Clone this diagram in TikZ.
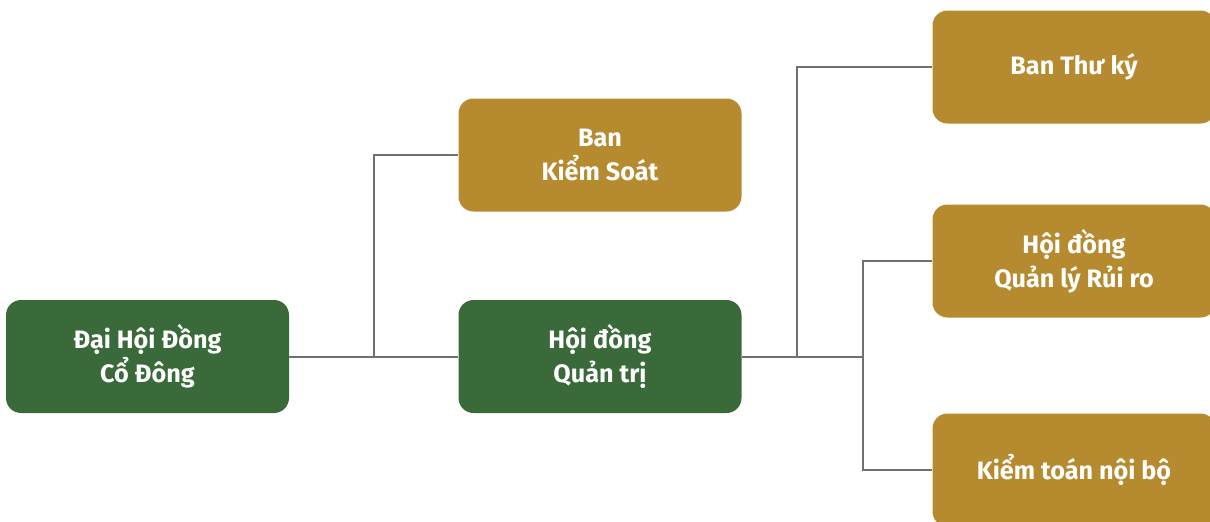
\documentclass[tikz,border=0pt]{standalone}
\usepackage{fontspec}
\setmainfont{Fira Sans}
\definecolor{boxgreen}{HTML}{3A6A3A}
\definecolor{boxgold}{HTML}{B68B2F}
\definecolor{linegray}{HTML}{707070}
\begin{document}
\begin{tikzpicture}[x=1pt,y=-1pt,
  orgbox/.style={rounded corners=15pt, minimum width=283pt, minimum height=113pt,
    align=center, text=white, font=\fontsize{25.2}{34}\selectfont\bfseries, inner sep=0pt},
  greenbox/.style={orgbox, fill=boxgreen},
  goldbox/.style={orgbox, fill=boxgold},
  conn/.style={draw=linegray, line width=2pt}]
\useasboundingbox (0,0) rectangle (1210,522);
\clip (0,0) rectangle (1210,522);
\node[greenbox] (dhdc) at (147.5,356.5) {Đại Hội Đồng\\Cổ Đông};
\node[goldbox] (bks) at (600,155) {Ban\\Kiểm Soát};
\node[greenbox] (hdqt) at (600,356.5) {Hội đồng\\Quản trị};
\node[goldbox] (btk) at (1074,67) {Ban Thư ký};
\node[goldbox] (hdql) at (1074,261) {Hội đồng\\Quản lý Rủi ro};
\node[goldbox] (ktnb) at (1074,470) {Kiểm toán nội bộ};
\coordinate (j1) at (374,356.5);
\coordinate (j2) at (797,356.5);
\coordinate (j3) at (863,356.5);
\draw[conn] (dhdc.east) -- (hdqt.west);
\draw[conn] (j1) |- (bks.west);
\draw[conn] (hdqt.east) -- (j3);
\draw[conn] (j2) |- (btk.west);
\draw[conn] (hdql.west) -| (j3) |- (ktnb.west);
\end{tikzpicture}
\end{document}
